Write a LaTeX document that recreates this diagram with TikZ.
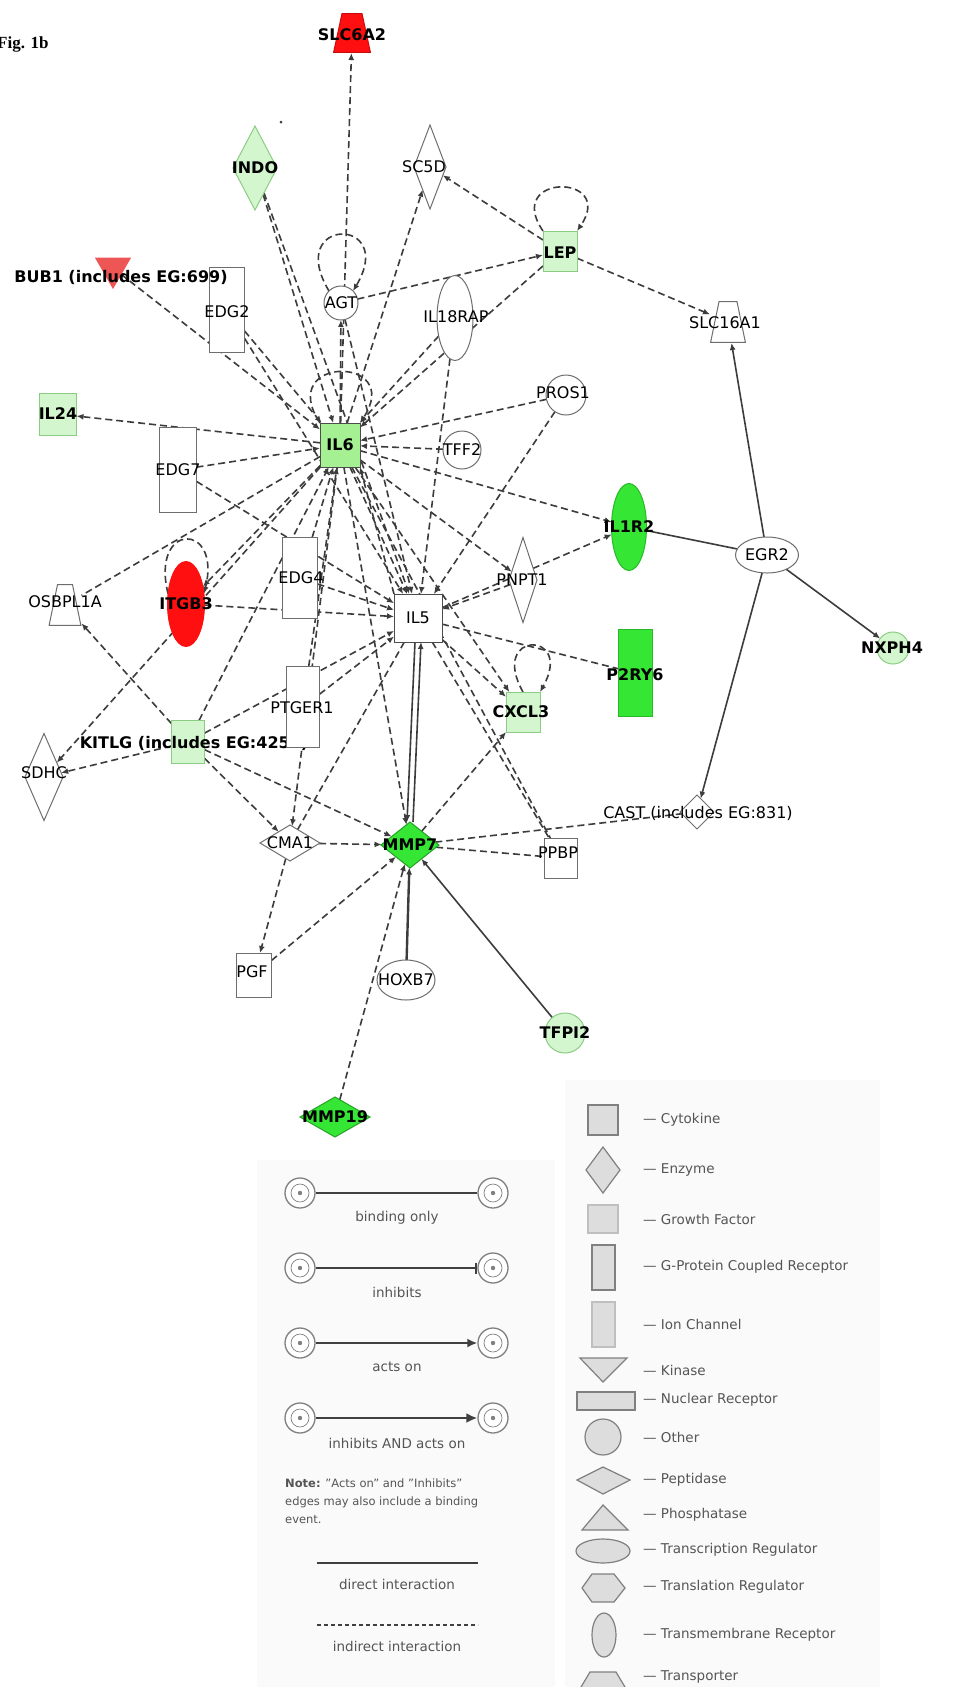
\documentclass[tikz,border=0pt]{standalone}
\usepackage{fontspec}
\setmainfont{DejaVu Sans}
\newfontfamily\figfont{Liberation Serif}
\usetikzlibrary{shapes.geometric,arrows.meta}
\pgfdeclarelayer{back}
\pgfdeclarelayer{bg}
\pgfsetlayers{back,bg,main}
\definecolor{redA}{HTML}{FF0F0F}
\definecolor{redB}{HTML}{EE5555}
\definecolor{grnA}{HTML}{35E635}
\definecolor{grnB}{HTML}{A4F092}
\definecolor{grnC}{HTML}{D4F6CE}
\definecolor{grnD}{HTML}{8CCB84}
\definecolor{edgec}{HTML}{3C3C3C}
\definecolor{shpc}{HTML}{6E6E6E}
\definecolor{legf}{HTML}{DDDDDD}
\definecolor{legd}{HTML}{808080}
\definecolor{legt}{HTML}{555555}
\definecolor{panel}{HTML}{FAFAFA}
\begin{document}
\begin{tikzpicture}[x=1pt,y=-1pt,
  gs/.style={draw=shpc, line width=1pt, fill=white, inner sep=0pt, outer sep=0pt},
  boxs/.style 2 args={gs, rectangle, minimum width=#1, minimum height=#2},
  dias/.style 2 args={gs, diamond, minimum width=#1, minimum height=#2},
  ells/.style 2 args={gs, ellipse, minimum width=#1, minimum height=#2},
  circs/.style={gs, circle, minimum size=#1},
  traps/.style n args={4}{rectangle, inner sep=0pt, outer sep=0pt, minimum width=#1, minimum height=#2,
     path picture={\path[draw=#4, fill=#3, line width=1pt]
        ([xshift=0.6pt,yshift=0.6pt]path picture bounding box.south west) --
        ([xshift=-0.6pt,yshift=0.6pt]path picture bounding box.south east) --
        ([xshift=-9pt,yshift=-0.6pt]path picture bounding box.north east) --
        ([xshift=9pt,yshift=-0.6pt]path picture bounding box.north west) -- cycle;}},
  kin/.style={gs, regular polygon, regular polygon sides=3, shape border rotate=180, minimum size=#1},
  lb/.style={inner sep=0pt, font=\fontsize{16}{16}\selectfont\bfseries},
  ln/.style={inner sep=0pt, font=\fontsize{16}{16}\selectfont},
  ind/.style={draw=edgec, line width=1.6pt, dash pattern=on 7pt off 4pt},
  dir/.style={draw=edgec, line width=1.6pt},
  ar/.style={-{Latex[length=7pt,width=6pt]}},
  lgt/.style={inner sep=0pt, text=legt, font=\fontsize{13.5}{15}\selectfont},
  lgr/.style={inner sep=0pt, text=legt, font=\fontsize{13.5}{15}\selectfont, anchor=west},
  lgs/.style={draw=legd, fill=legf, line width=1.2pt},
  lgc/.style={circle, draw=legd, line width=1.3pt, fill=white, minimum size=30pt, inner sep=0pt,
     path picture={\draw[legd, line width=0.7pt] (path picture bounding box.center) circle (9pt);
                   \fill[legd] (path picture bounding box.center) circle (2.2pt);}},
  lgl/.style={draw=black!75, line width=2.4pt}
]
\useasboundingbox (0,0) rectangle (965,1687);
\begin{pgfonlayer}{back}
\fill[white] (0,0) rectangle (965,1687);
\fill[panel] (257,1160) rectangle (555,1687);
\fill[panel] (565,1080) rectangle (880,1687);
\end{pgfonlayer}

\node[anchor=west, inner sep=0pt, font=\figfont\bfseries\fontsize{17}{17}\selectfont] (fig) at (-3,44) {Fig. 1b};
\fill[edgec] (281,122) circle (1.5pt);

% ---------- shapes ----------
\node[traps={38}{40}{redA}{redA!80!black}] (SLC6A2) at (352,33) {};
\node[dias={44}{84}, fill=grnC, draw=grnD] (INDO) at (255,168) {};
\node[dias={32}{84}] (SC5D) at (430,167) {};
\node[circs=34] (AGT) at (341,303) {};
\node[kin=40, fill=redB, draw=redB] (BUB1) at (113,268) {};
\node[boxs={35}{85}] (EDG2) at (227,310) {};
\node[ells={36}{85}] (IL18RAP) at (455,318) {};
\node[boxs={34}{40}, fill=grnC, draw=grnD] (LEP) at (560,251) {};
\node[traps={36}{42}{white}{shpc}] (SLC16A1) at (728,322) {};
\node[circs=40] (PROS1) at (566,395) {};
\node[boxs={37}{42}, fill=grnC, draw=grnD] (IL24) at (58,414) {};
\node[boxs={37}{85}] (EDG7) at (178,470) {};
\node[boxs={40}{44}, fill=grnB, draw=black!70] (IL6) at (340,445) {};
\node[circs=38] (TFF2) at (462,450) {};
\node[ells={35}{87}, fill=grnA, draw=grnA!80!black] (IL1R2) at (629,527) {};
\node[ells={63}{36}] (EGR2) at (767,555) {};
\node[circs=32, fill=grnC, draw=grnD] (NXPH4) at (893,648) {};
\node[dias={28}{85}] (PNPT1) at (523,580) {};
\node[boxs={34}{87}, fill=grnA, draw=grnA!80!black] (P2RY6) at (635,673) {};
\node[boxs={34}{40}, fill=grnC, draw=grnD] (CXCL3) at (523,712) {};
\node[boxs={48}{48}, draw=black!70] (IL5) at (418,618) {};
\node[traps={33}{42}{white}{shpc}] (OSBPL1A) at (65,605) {};
\node[ells={37}{85}, fill=redA, draw=redA] (ITGB3) at (186,604) {};
\node[boxs={35}{81}] (EDG4) at (300,578) {};
\node[boxs={33}{43}, fill=grnC, draw=grnD] (KITLG) at (188,742) {};
\node[dias={38}{87}] (SDHC) at (44,777) {};
\node[dias={60}{36}] (CMA1) at (290,843) {};
\node[dias={58}{46}, fill=grnA, draw=grnA!70!black] (MMP7) at (410,845) {};
\node[boxs={33}{40}] (PPBP) at (561,858) {};
\node[dias={34}{34}] (CAST) at (697,812) {};
\node[boxs={35}{44}] (PGF) at (254,975) {};
\node[ells={58}{40}] (HOXB7) at (406,980) {};
\node[circs=40, fill=grnC, draw=grnD] (TFPI2) at (565,1033) {};
\node[dias={70}{40}, fill=grnA, draw=grnA!70!black] (MMP19) at (335,1117) {};
\node[lb] (KITLG-t) at (194,743) {KITLG (includes EG:4254)};
\node[boxs={33}{81}] (PTGER1) at (303,707) {};

% ---------- labels ----------
\node[lb] (SLC6A2-t) at (352,35) {SLC6A2};
\node[lb] (INDO-t) at (255,168) {INDO};
\node[ln] (SC5D-t) at (424,167) {SC5D};
\node[ln] (AGT-t) at (341,303) {AGT};
\node[lb] (BUB1-t) at (121,277) {BUB1 (includes EG:699)};
\node[ln] (EDG2-t) at (227,312) {EDG2};
\node[ln] (IL18RAP-t) at (456,317) {IL18RAP};
\node[lb] (LEP-t) at (560,253) {LEP};
\node[ln] (SLC16A1-t) at (725,323) {SLC16A1};
\node[ln] (PROS1-t) at (563,393) {PROS1};
\node[lb] (IL24-t) at (58,414) {IL24};
\node[ln] (EDG7-t) at (178,470) {EDG7};
\node[lb] (IL6-t) at (340,445) {IL6};
\node[ln] (TFF2-t) at (462,450) {TFF2};
\node[lb] (IL1R2-t) at (629,527) {IL1R2};
\node[ln] (EGR2-t) at (767,555) {EGR2};
\node[lb] (NXPH4-t) at (892,648) {NXPH4};
\node[ln] (PNPT1-t) at (522,580) {PNPT1};
\node[lb] (P2RY6-t) at (635,675) {P2RY6};
\node[lb] (CXCL3-t) at (521,712) {CXCL3};
\node[ln] (IL5-t) at (418,618) {IL5};
\node[ln] (OSBPL1A-t) at (65,602) {OSBPL1A};
\node[lb] (ITGB3-t) at (186,604) {ITGB3};
\node[ln] (EDG4-t) at (301,578) {EDG4};
\node[ln] (PTGER1-t) at (302,708) {PTGER1};
\node[ln] (SDHC-t) at (44,773) {SDHC};
\node[ln] (CMA1-t) at (290,843) {CMA1};
\node[lb] (MMP7-t) at (410,845) {MMP7};
\node[ln] (PPBP-t) at (558,853) {PPBP};
\node[ln] (CAST-t) at (698,813) {CAST (includes EG:831)};
\node[ln] (PGF-t) at (252,972) {PGF};
\node[ln] (HOXB7-t) at (406,980) {HOXB7};
\node[lb] (TFPI2-t) at (565,1033) {TFPI2};
\node[lb] (MMP19-t) at (335,1117) {MMP19};

% ---------- edges ----------
\begin{pgfonlayer}{bg}
\draw[ind,ar] (AGT.north west) .. controls +(-45,-75) and +(45,-75) .. (AGT.north east);
\draw[ind,ar] (IL6.north west) .. controls +(-45,-68) and +(45,-68) .. (IL6.north east);
\draw[ind,ar] (LEP.north west) .. controls +(-40,-58) and +(40,-58) .. (LEP.north east);
\draw[ind,ar] (CXCL3.north) .. controls +(-35,-62) and +(35,-62) .. (CXCL3.north east);
\draw[ind,ar] (ITGB3.150) .. controls +(-18,-72) and +(18,-72) .. (ITGB3.30);
\draw[ind,ar] (IL6) -- (SLC6A2);
\draw[ind,ar] (IL6) -- (AGT);
\draw[ind,ar] (INDO) -- (IL6);
\draw[ind,ar] (INDO) -- (IL5);
\draw[ind,ar] (IL6) -- (SC5D);
\draw[ind,ar] (LEP) -- (SC5D);
\draw[ind,ar] (AGT) -- (LEP);
\draw[ind,ar] (LEP) -- (IL6);
\draw[ind,ar] (LEP) -- (SLC16A1);
\draw[ind,ar] (IL18RAP) -- (IL6);
\draw[ind,ar] (IL18RAP) -- (IL5);
\draw[ind,ar] (PROS1) -- (IL6);
\draw[ind,ar] (PROS1) -- (IL5);
\draw[ind,ar] (TFF2) -- (IL6);
\draw[ind,ar] (IL6) -- (IL1R2);
\draw[ind,ar] (IL5) -- (IL1R2);
\draw[ind,ar] (IL6) -- (PNPT1);
\draw[ind,ar] (PNPT1) -- (IL5);
\draw[ind,ar] (IL6) -- (CXCL3);
\draw[ind] (IL6) -- (PPBP);
\draw[ind] (IL5) -- (P2RY6);
\draw[ind,ar] (IL5) -- (CXCL3);
\draw[ind] (IL5) -- (PPBP);
\draw[ind,ar] (MMP19) -- (MMP7);
\draw[ind,ar] (PGF) -- (MMP7);
\draw[ind,ar] (CMA1) -- (MMP7);
\draw[ind,ar] (CMA1) -- (PGF);
\draw[ind,ar] (KITLG) -- (CMA1);
\draw[ind,ar] (KITLG) -- (MMP7);
\draw[ind,ar] (KITLG) -- (IL6);
\draw[ind,ar] (KITLG) -- (IL5);
\draw[ind,ar] (KITLG) -- (SDHC);
\draw[ind,ar] (IL6) -- (SDHC);
\draw[ind,ar] (KITLG) -- (OSBPL1A);
\draw[ind] (IL6) -- (OSBPL1A);
\draw[ind,ar] (ITGB3) -- (IL5);
\draw[ind,ar] (IL6) -- (ITGB3);
\draw[ind,ar] (BUB1) -- (IL6);
\draw[ind,ar] (EDG2) -- (IL6);
\draw[ind,ar] (EDG2) -- (IL5);
\draw[ind,ar] (IL6) -- (IL24);
\draw[ind,ar] (EDG7) -- (IL6);
\draw[ind,ar] (EDG7) -- (IL5);
\draw[ind,ar] (EDG4) -- (IL6);
\draw[ind,ar] (EDG4) -- (IL5);
\draw[ind,ar] (PTGER1) -- (IL6);
\draw[ind,ar] (PTGER1) -- (IL5);
\draw[ind,ar] (IL6) -- (IL5);
\draw[ind,ar] (IL5.north west) -- (IL6.south east);
\draw[ind,ar] (IL6) -- (CMA1);
\draw[ind] (IL5) -- (CMA1);
\draw[ind,ar] (IL6) -- (MMP7);
\draw[ind,ar] (MMP7) -- (CXCL3);
\draw[ind] (MMP7) -- (PPBP);
\draw[ind] (MMP7) -- (CAST);
\draw[ind,ar] (AGT) -- (IL5);
\draw[dir,ar] (EGR2) -- (SLC16A1);
\draw[dir] (IL1R2) -- (EGR2);
\draw[dir,ar] (EGR2) -- (NXPH4);
\draw[dir,ar] (EGR2) -- (CAST);
\draw[dir,ar] ([xshift=-3pt]IL5.south) -- ([xshift=-3pt]MMP7.north);
\draw[dir,ar] ([xshift=3pt]MMP7.north) -- ([xshift=3pt]IL5.south);
\draw[dir,ar, line width=2.4pt] (HOXB7) -- (MMP7);
\draw[dir,ar] (TFPI2) -- (MMP7);
\end{pgfonlayer}

% ---------- legend: edges ----------
\node[lgc] (b1) at (300,1193) {}; \node[lgc] (b2) at (493,1193) {};
\draw[lgl] (b1) -- (b2);
\node[lgt] (b-t) at (397,1218) {binding only};
\node[lgc] (i1) at (300,1268) {}; \node[lgc] (i2) at (493,1268) {};
\draw[lgl, -{Bar[width=11pt,line width=2pt]}] (i1) -- (i2);
\node[lgt] (i-t) at (397,1292) {inhibits};
\node[lgc] (a1) at (300,1343) {}; \node[lgc] (a2) at (493,1343) {};
\draw[lgl, -{Latex[length=10pt,width=9pt]}] (a1) -- (a2);
\node[lgt] (a-t) at (397,1367) {acts on};
\node[lgc] (ia1) at (300,1418) {}; \node[lgc] (ia2) at (493,1418) {};
\draw[lgl, -{Latex[length=11pt,width=10pt]}] (ia1) -- (ia2);
\node[lgt] (ia-t) at (397,1443) {inhibits AND acts on};
\node[inner sep=0pt, text=legt, anchor=north west, align=left, font=\fontsize{11.5}{18}\selectfont] (note) at (285,1479) {\textbf{Note:} "Acts on" and "Inhibits"\\edges may also include a binding\\event.};
\coordinate (d1) at (317,1563); \coordinate (d2) at (478,1563);
\draw[lgl] (d1) -- (d2);
\node[lgt] (d-t) at (397,1584) {direct interaction};
\coordinate (e1) at (317,1625); \coordinate (e2) at (478,1625);
\draw[draw=black!75, line width=1.6pt, dash pattern=on 4pt off 3pt] (e1) -- (e2);
\node[lgt] (e-t) at (397,1646) {indirect interaction};

% ---------- legend: shapes ----------
\draw[lgs] (588,1105) rectangle (618,1135);
\node[lgr] (L1) at (643,1120) {— Cytokine};
\draw[lgs] (603,1147) -- (620,1170) -- (603,1193) -- (586,1170) -- cycle;
\node[lgr] (L2) at (643,1170) {— Enzyme};
\draw[lgs, draw=legd!50] (588,1205) rectangle (618,1233);
\node[lgr] (L3) at (643,1219) {— Growth Factor};
\draw[lgs] (592,1245) rectangle (615,1290);
\node[lgr] (L4) at (643,1267) {— G-Protein Coupled Receptor};
\draw[lgs, draw=legd!50] (592,1302) rectangle (615,1347);
\node[lgr] (L5) at (643,1324) {— Ion Channel};
\draw[lgs] (580,1358) -- (627,1358) -- (603,1382) -- cycle;
\node[lgr] (L6) at (643,1370) {— Kinase};
\draw[lgs] (577,1392) rectangle (635,1410);
\node[lgr] (L7) at (643,1400) {— Nuclear Receptor};
\draw[lgs] (603,1437) circle (18);
\node[lgr] (L8) at (643,1437) {— Other};
\draw[lgs] (577,1480) -- (603,1467) -- (630,1480) -- (603,1494) -- cycle;
\node[lgr] (L9) at (643,1480) {— Peptidase};
\draw[lgs] (582,1530) -- (603,1505) -- (628,1530) -- cycle;
\node[lgr] (L10) at (643,1515) {— Phosphatase};
\draw[lgs] (603,1551) ellipse (27 and 12);
\node[lgr] (L11) at (643,1550) {— Transcription Regulator};
\draw[lgs] (582,1588) -- (592,1574) -- (614,1574) -- (625,1588) -- (614,1602) -- (592,1602) -- cycle;
\node[lgr] (L12) at (643,1587) {— Translation Regulator};
\draw[lgs] (604,1635) ellipse (12 and 22);
\node[lgr] (L13) at (643,1635) {— Transmembrane Receptor};
\draw[lgs] (578,1692) -- (590,1672) -- (616,1672) -- (628,1692);
\node[lgr] (L14) at (643,1677) {— Transporter};
\end{tikzpicture}
\end{document}
